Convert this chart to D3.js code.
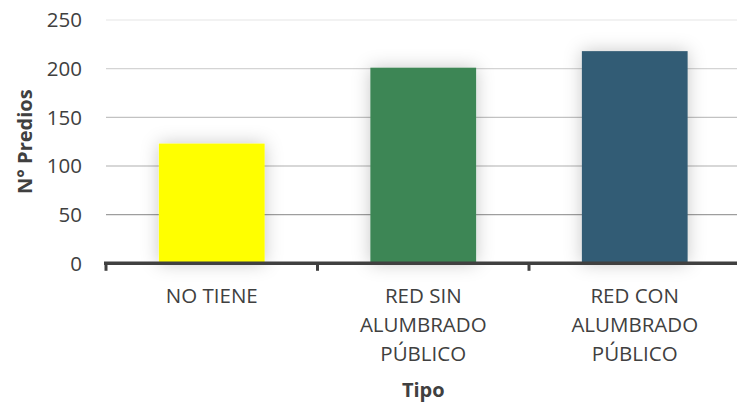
<!DOCTYPE html>
<html>
<head>
<meta charset="utf-8">
<script src="https://cdn.jsdelivr.net/npm/d3@7"></script>
<style>
  html, body { margin: 0; padding: 0; background: #fff; }
  svg { display: block; font-family: "Open Sans", "Noto Sans", sans-serif; }
</style>
</head>
<body>
<svg id="chart" width="737" height="403"></svg>
<script>
const categories = [["NO TIENE"], ["RED SIN", "ALUMBRADO", "PÚBLICO"], ["RED CON", "ALUMBRADO", "PÚBLICO"]];
const categoryKeys = ["NO TIENE", "RED SIN ALUMBRADO PÚBLICO", "RED CON ALUMBRADO PÚBLICO"];
const values = [123, 201, 218];
const barColors = ["#FFFF00", "#3E8654", "#335B74"];
const yTicks = [0, 50, 100, 150, 200, 250];
const yTitle = "N° Predios";
const xTitle = "Tipo";

(function () {
const svg = d3.select("#chart");
const W = 737;
const pLeft = 106, pRight = 740.5, pTop = 20, pBottom = 263.3;

const x = d3.scaleBand().domain(categoryKeys).range([pLeft, pRight]).paddingInner(0.5).paddingOuter(0.25);
const y = d3.scaleLinear().domain([0, 250]).range([pBottom, pTop]);

// shadow filter
const defs = svg.append("defs");
const f = defs.append("filter").attr("id", "glow")
  .attr("x", "-40%").attr("y", "-20%").attr("width", "180%").attr("height", "140%");
f.append("feGaussianBlur").attr("in", "SourceAlpha").attr("stdDeviation", 9).attr("result", "blur");
f.append("feFlood").attr("flood-color", "#000").attr("flood-opacity", 0.22).attr("result", "col");
f.append("feComposite").attr("in", "col").attr("in2", "blur").attr("operator", "in").attr("result", "shadow");
const m = f.append("feMerge");
m.append("feMergeNode").attr("in", "shadow");
m.append("feMergeNode").attr("in", "SourceGraphic");

// gridlines
const gridColor = d3.scaleLinear().domain([0, 250]).range(["#8c8c8c", "#e6e6e6"]);
svg.append("g").selectAll("line").data(yTicks.filter(d => d > 0)).join("line")
  .attr("x1", pLeft).attr("x2", W)
  .attr("y1", d => y(d)).attr("y2", d => y(d))
  .attr("stroke", d => gridColor(d)).attr("stroke-width", 1.2);

// bars
svg.append("g").selectAll("rect").data(values).join("rect")
  .attr("x", (d, i) => x(categoryKeys[i]))
  .attr("width", x.bandwidth())
  .attr("y", d => y(d))
  .attr("height", d => y(0) - y(d))
  .attr("fill", (d, i) => barColors[i])
  .attr("filter", "url(#glow)");

// y tick labels
svg.append("g").selectAll("text").data(yTicks).join("text")
  .attr("x", 82).attr("y", d => y(d))
  .attr("dy", "0.36em")
  .attr("text-anchor", "end")
  .attr("fill", "#404040")
  .attr("font-size", 20.5)
  .text(d => d);

// x axis line and ticks
const axisG = svg.append("g").attr("stroke", "#404040");
axisG.append("line").attr("x1", pLeft - 2).attr("x2", W).attr("y1", y(0)).attr("y2", y(0)).attr("stroke-width", 3.5);
const boundaries = categoryKeys.map(c => x(c) - x.step() * x.paddingInner() / 2);
axisG.selectAll("line.tick").data(boundaries).join("line").attr("class", "tick")
  .attr("x1", d => d).attr("x2", d => d)
  .attr("y1", y(0)).attr("y2", y(0) + 7.5)
  .attr("stroke-width", 3);

// category labels
const lab = svg.append("g").selectAll("text").data(categories).join("text")
  .attr("text-anchor", "middle")
  .attr("fill", "#404040")
  .attr("font-size", 20.5);
lab.each(function (lines, i) {
  const cx = x(categoryKeys[i]) + x.bandwidth() / 2;
  d3.select(this).selectAll("tspan").data(lines).join("tspan")
    .attr("x", cx).attr("y", (d, j) => 303 + j * 29)
    .text(d => d);
});

// axis titles
svg.append("text")
  .attr("x", (pLeft + pRight) / 2).attr("y", 397)
  .attr("text-anchor", "middle").attr("font-weight", "bold")
  .attr("fill", "#404040").attr("font-size", 20)
  .text(xTitle);
svg.append("text")
  .attr("transform", `translate(32, ${(pTop + pBottom) / 2}) rotate(-90)`)
  .attr("text-anchor", "middle").attr("font-weight", "bold")
  .attr("fill", "#404040").attr("font-size", 20)
  .text(yTitle);
})();
</script>
</body>
</html>
